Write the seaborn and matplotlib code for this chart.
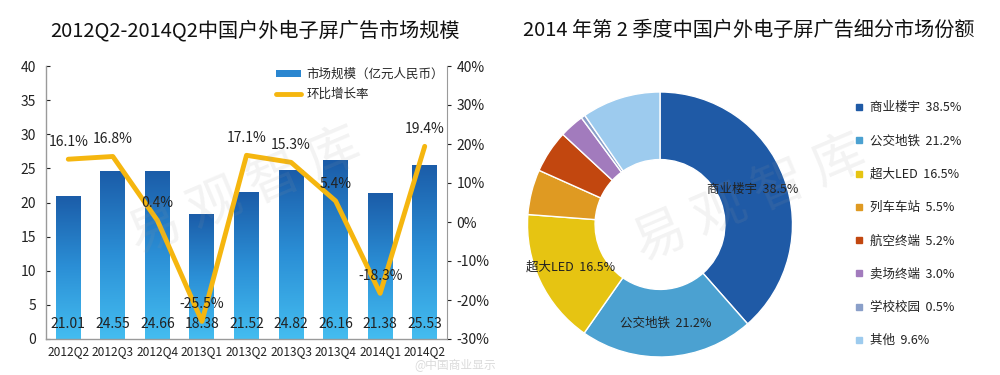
import numpy as np
import pandas as pd
import matplotlib
matplotlib.use('Agg')
import matplotlib.pyplot as plt
import seaborn as sns
from matplotlib.patches import Patch
from matplotlib.lines import Line2D
from matplotlib.colors import LinearSegmentedColormap

# ---------------- data ----------------
quarters = ['2012Q2', '2012Q3', '2012Q4', '2013Q1', '2013Q2', '2013Q3', '2013Q4', '2014Q1', '2014Q2']
market_size = [21.01, 24.55, 24.66, 18.38, 21.52, 24.82, 26.16, 21.38, 25.53]
growth = [16.1, 16.8, 0.4, -25.5, 17.1, 15.3, 5.4, -18.3, 19.4]
size_ticks = [0, 5, 10, 15, 20, 25, 30, 35, 40]
growth_ticks = [-30, -20, -10, 0, 10, 20, 30, 40]

segments = ['商业楼宇', '公交地铁', '超大LED', '列车车站', '航空终端', '卖场终端', '学校校园', '其他']
shares = [38.5, 21.2, 16.5, 5.5, 5.2, 3.0, 0.5, 9.6]
seg_colors = ['#1f5aa6', '#4ba1d1', '#e6c412', '#df9a22', '#c2470f', '#a27bbd', '#8a9fc9', '#9dcbee']

left_title = '2012Q2-2014Q2中国户外电子屏广告市场规模'
right_title = '2014 年第 2 季度中国户外电子屏广告细分市场份额'
bar_name = '市场规模（亿元人民币）'
line_name = '环比增长率'
watermark = '易 观 智 库'
source_mark = '@中国商业显示'

# ---------------- style ----------------
sns.set_style('white')
plt.rcParams['font.family'] = ['Noto Sans CJK SC', 'DejaVu Sans']
TXT = '#222222'
SPINE = '#9a9a9a'
LINE_C = '#f5b60f'

fig = plt.figure(figsize=(10, 3.75), dpi=100)

# ---------------- left: bars + line ----------------
ax = fig.add_axes([0.046, 0.096, 0.401, 0.728])
df = pd.DataFrame({'quarter': quarters, 'size': market_size})
sns.barplot(data=df, x='quarter', y='size', ax=ax, width=0.56, color='#2a86d0', saturation=1)

cmap = LinearSegmentedColormap.from_list('bluegrad', ['#44bdf0', '#2b8fd6', '#1b5ca8'])
grad = np.linspace(0, 1, 256).reshape(-1, 1)
for p in list(ax.patches):
    x, y, w, h = p.get_x(), p.get_y(), p.get_width(), p.get_height()
    im = ax.imshow(grad, extent=(x, x + w, y, y + h), aspect='auto', cmap=cmap,
                   origin='lower', zorder=p.get_zorder())
    im.set_clip_path(p)
    p.set_facecolor('none')
    p.set_edgecolor('none')

for i, v in enumerate(market_size):
    ax.annotate(f'{v:.2f}', (i, 0), xytext=(0, 11), textcoords='offset points',
                ha='center', va='center', fontsize=10, color=TXT, zorder=5)

ax.set_ylim(0, 40)
ax.set_yticks(size_ticks)
ax.set_xlabel('')
ax.set_ylabel('')
ax.tick_params(axis='y', labelsize=10, colors=TXT, length=3, direction='in', pad=7)
ax.tick_params(axis='x', labelsize=8.6, colors=TXT, length=0, pad=4)
for s in ['top', 'right']:
    ax.spines[s].set_visible(False)
for s in ['left', 'bottom']:
    ax.spines[s].set_color(SPINE)
    ax.spines[s].set_linewidth(1)

ax2 = ax.twinx()
sns.lineplot(x=np.arange(len(growth)), y=growth, ax=ax2, color=LINE_C, lw=3.5, zorder=3)
ax2.set_ylim(-30, 40)
ax2.set_yticks(growth_ticks)
ax2.set_yticklabels([f'{t}%' for t in growth_ticks])
ax2.tick_params(axis='y', labelsize=10, colors=TXT, length=3, direction='out', pad=4)
ax2.set_ylabel('')
for s in ['top', 'left', 'bottom']:
    ax2.spines[s].set_visible(False)
ax2.spines['right'].set_color(SPINE)
for i, g in enumerate(growth):
    ax2.annotate(f'{g}%', (i, g), xytext=(0, 12.5), textcoords='offset points',
                 ha='center', va='center', fontsize=10, color=TXT, zorder=6)
ax.set_xlim(-0.5, len(quarters) - 0.5)

handles = [Patch(facecolor='#2a86d0', edgecolor='none'),
           Line2D([0], [0], color=LINE_C, lw=3.5)]
ax2.legend(handles, [bar_name, line_name], loc='upper right', bbox_to_anchor=(1.02, 1.035),
           frameon=False, fontsize=9, handlelength=2.0, handleheight=0.5,
           handletextpad=0.4, labelspacing=0.6)

# ---------------- right: donut ----------------
axp = fig.add_axes([0.5275, 0.048, 0.265, 0.7067])
wedges, _ = axp.pie(shares, colors=seg_colors, startangle=90, counterclock=False, radius=1,
                    wedgeprops=dict(width=0.51, edgecolor='white', linewidth=1))
axp.set_xlim(-1, 1)
axp.set_ylim(-1, 1)
axp.set_aspect('equal')
for w, name, v in list(zip(wedges, segments, shares))[:3]:
    ang = np.deg2rad((w.theta1 + w.theta2) / 2)
    r = 0.745
    axp.text(r * np.cos(ang), r * np.sin(ang), f'{name}  {v}%', ha='center', va='center',
             fontsize=9, color=TXT, zorder=5)

leg_handles = [Line2D([], [], marker='s', linestyle='none', markersize=5,
                      markerfacecolor=c, markeredgecolor=c) for c in seg_colors]
leg_labels = [f'{n}  {v}%' for n, v in zip(segments, shares)]
fig.legend(leg_handles, leg_labels, loc='center left', bbox_to_anchor=(0.843, 0.402),
           frameon=False, fontsize=9, handlelength=0.8, handletextpad=0.5,
           labelspacing=1.62, labelcolor=TXT)

# ---------------- titles & watermarks ----------------
fig.text(0.2545, 0.918, left_title, ha='center', va='center', fontsize=14.5, color='#111111')
fig.text(0.7485, 0.918, right_title, ha='center', va='center', fontsize=14.5, color='#111111')
fig.text(0.245, 0.49, watermark, ha='center', va='center', fontsize=38, rotation=23,
         color='#999999', alpha=0.12)
fig.text(0.75, 0.47, watermark, ha='center', va='center', fontsize=38, rotation=23,
         color='#999999', alpha=0.12)
fig.text(0.455, 0.026, source_mark, ha='center', va='center', fontsize=8.5,
         color='#888888', alpha=0.3)

fig.savefig('out.png', dpi=100)
